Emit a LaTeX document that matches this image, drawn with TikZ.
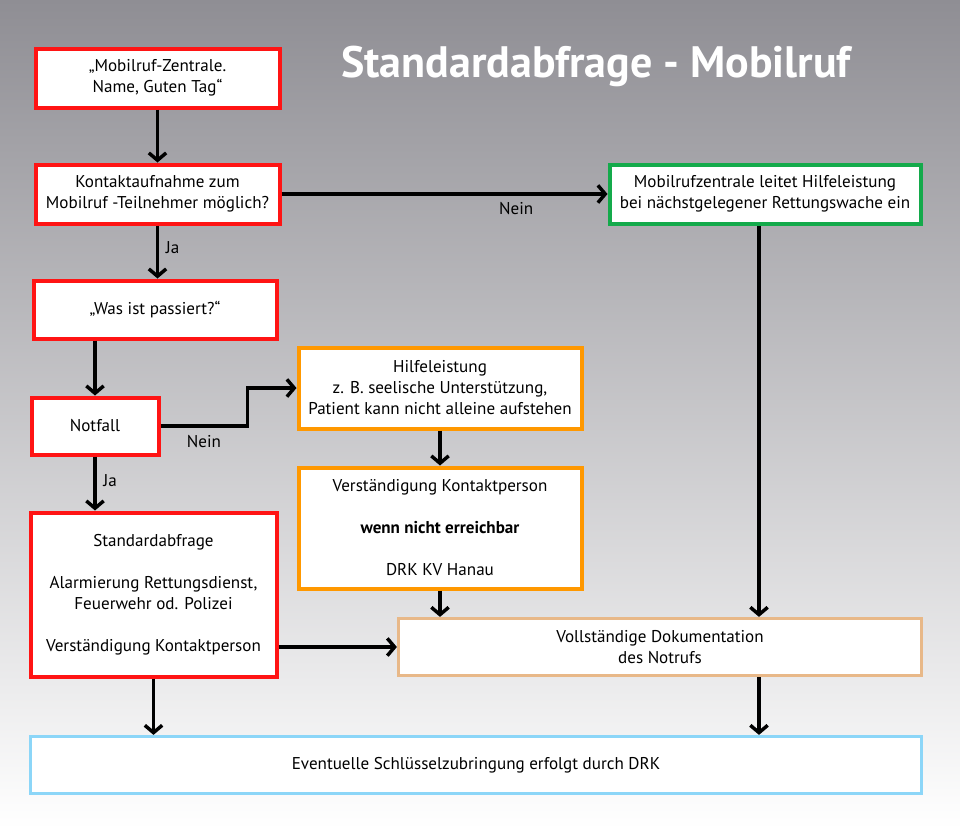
\documentclass[tikz,border=0pt]{standalone}
\usepackage{fontspec}
\setmainfont{PT Sans}
\usepackage{tikz}
\usetikzlibrary{arrows.meta,calc}
\definecolor{boxred}{RGB}{255,20,20}
\definecolor{boxgreen}{RGB}{20,170,75}
\definecolor{boxorange}{RGB}{255,152,0}
\definecolor{boxtan}{RGB}{232,184,136}
\definecolor{boxblue}{RGB}{140,214,248}
\definecolor{bgtop}{RGB}{143,142,148}
\tikzset{
  flowbox/.style={draw, fill=white, line width=3pt, inner sep=0pt, align=center,
    font=\fontsize{12.8}{15.75}\selectfont},
  redbox/.style={flowbox, draw=boxred},
  greenbox/.style={flowbox, draw=boxgreen},
  orangebox/.style={flowbox, draw=boxorange},
  tanbox/.style={flowbox, draw=boxtan, line width=2.4pt},
  bluebox/.style={flowbox, draw=boxblue, line width=2.4pt},
  flowarrow/.style={black, line width=2.6pt, ->, >={Straight Barb[length=5.5pt,width=13pt]}},
  flowlabel/.style={font=\fontsize{12.8}{14}\selectfont, inner sep=2pt}
}

\begin{document}
\begin{tikzpicture}[x=0.75pt, y=-0.75pt]
\fill[top color=bgtop, bottom color=white] (0,0) rectangle (960,829);
\useasboundingbox (0,0) rectangle (960,829);

\node[anchor=base, white, font=\fontsize{33}{36}\selectfont\bfseries] (titel) at (596,77) {Standardabfrage - Mobilruf};

% linke Spalte
\node[redbox, minimum width=183pt, minimum height=44.25pt] (zentrale) at (157.5,78) {„Mobilruf-Zentrale.\\ Name, Guten Tag“};
\node[redbox, minimum width=183pt, minimum height=44.25pt] (kontakt) at (157.5,194) {Kontaktaufnahme zum\\ Mobilruf -Teilnehmer möglich?};
\node[redbox, minimum width=182.25pt, minimum height=43.5pt] (passiert) at (155,309.5) {„Was ist passiert?“};
\node[redbox, minimum width=95.25pt, minimum height=42.75pt] (notfall) at (95,426) {Notfall};
\node[redbox, minimum width=184.5pt, minimum height=123pt] (standard) at (153.5,594.5)
  {Standardabfrage\\[15.75pt] Alarmierung Rettungsdienst,\\ Feuerwehr od. Polizei\\[15.75pt] Verständigung Kontaktperson};

% rechte Seite
\node[greenbox, minimum width=233.25pt, minimum height=44.25pt] (leitstelle) at (765,194) {Mobilrufzentrale leitet Hilfeleistung\\ bei nächstgelegener Rettungswache ein};
\node[orangebox, minimum width=212.25pt, minimum height=60.75pt] (hilfe) at (440,388) {Hilfeleistung\\ z. B. seelische Unterstützung,\\ Patient kann nicht alleine aufstehen};
\node[orangebox, minimum width=212.25pt, minimum height=90.75pt] (verstaendigung) at (440,528)
  {Verständigung Kontaktperson\\[15.75pt] \textbf{wenn nicht erreichbar}\\[15.75pt] DRK KV Hanau};
\node[tanbox, minimum width=392.25pt, minimum height=42.75pt] (doku) at (660,647) {Vollständige Dokumentation\\ des Notrufs};
\node[bluebox, minimum width=668.25pt, minimum height=42.75pt] (schluessel) at (476,765) {Eventuelle Schlüsselzubringung erfolgt durch DRK};

% Pfeile
\draw[flowarrow] (zentrale) -- (kontakt);
\draw[flowarrow] (kontakt) -- node[flowlabel, pos=0.72, below=3pt] (nein1) {Nein} (leitstelle);
\draw[flowarrow] (kontakt) -- node[flowlabel, pos=0.42, right=3pt] (ja1) {Ja} (kontakt |- passiert.north);
\draw[flowarrow] (notfall.north |- passiert.south) -- (notfall);
\draw[flowarrow] (notfall.east) -- node[flowlabel, below=4pt] (nein2) {Nein} ++(87,0) |- (hilfe.west);
\draw[flowarrow] (notfall) -- node[flowlabel, pos=0.45, right=3pt] (ja2) {Ja} (notfall |- standard.north);
\draw[flowarrow] (hilfe) -- (verstaendigung);
\draw[flowarrow] (verstaendigung) -- (verstaendigung |- doku.north);
\draw[flowarrow] ([xshift=-4.5pt]leitstelle.south) -- ([xshift=-4.5pt]leitstelle.south |- doku.north);
\draw[flowarrow] (standard.east |- doku.west) -- (doku.west);
\draw[flowarrow] (standard) -- (standard |- schluessel.north);
\draw[flowarrow] ([xshift=-4.5pt]leitstelle.south |- doku.south) -- ([xshift=-4.5pt]leitstelle.south |- schluessel.north);
\end{tikzpicture}
\end{document}
